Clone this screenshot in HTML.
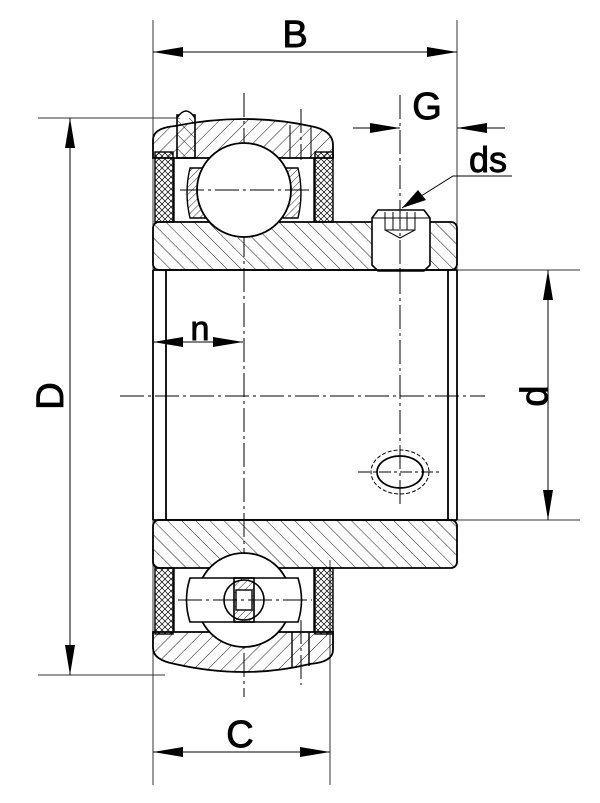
<!DOCTYPE html>
<html><head><style>
html,body{margin:0;padding:0;background:#fff;}
svg{display:block;}
text{font-family:"Liberation Sans",sans-serif;fill:#000;stroke:#000;stroke-width:0.9;}
</style></head><body>
<svg width="600" height="803" viewBox="0 0 600 803" xmlns="http://www.w3.org/2000/svg">
<defs>
<pattern id="h1" patternUnits="userSpaceOnUse" width="10" height="10" patternTransform="rotate(45)">
<line x1="0" y1="0" x2="0" y2="10" stroke="#000" stroke-width="0.9"/></pattern>
<pattern id="h2" patternUnits="userSpaceOnUse" width="10" height="10" patternTransform="rotate(-45)">
<line x1="0" y1="0" x2="0" y2="10" stroke="#000" stroke-width="0.9"/></pattern>
<pattern id="h3" patternUnits="userSpaceOnUse" width="5" height="5" patternTransform="rotate(45)">
<line x1="0" y1="0" x2="0" y2="5" stroke="#000" stroke-width="0.8"/></pattern>
<pattern id="hx" patternUnits="userSpaceOnUse" width="6" height="6">
<path d="M0 0L6 6M6 0L0 6" stroke="#000" stroke-width="0.7"/></pattern>
</defs>
<g stroke="#000" fill="none">
<g stroke-width="1" stroke="#333">
<line x1="153" y1="20" x2="153" y2="785"/>
<line x1="457" y1="20" x2="457" y2="272"/>
<line x1="330" y1="560" x2="330" y2="785"/>
<line x1="38" y1="118" x2="180" y2="118"/>
<line x1="38" y1="675" x2="165" y2="675"/>
<line x1="457" y1="270" x2="580" y2="270"/>
<line x1="457" y1="520" x2="580" y2="520"/>
</g>
<g stroke-width="1">
<line x1="153" y1="52" x2="457" y2="52"/>
<line x1="70" y1="118" x2="70" y2="675"/>
<line x1="548" y1="270" x2="548" y2="520"/>
<line x1="153" y1="342" x2="243" y2="342"/>
<line x1="153" y1="752" x2="330" y2="752"/>
<line x1="353" y1="128" x2="400" y2="128"/>
<line x1="457" y1="128" x2="505" y2="128"/>
<polyline points="512,176 453,176 402,208"/>
</g>
<g fill="#000" stroke="none">
<polygon points="153,52 183,47 183,57"/><polygon points="457,52 427,47 427,57"/>
<polygon points="70,118 65,148 75,148"/><polygon points="70,675 65,645 75,645"/>
<polygon points="548,270 543,300 553,300"/><polygon points="548,520 543,490 553,490"/>
<polygon points="153,342 183,337 183,347"/><polygon points="243,342 213,337 213,347"/>
<polygon points="153,752 183,747 183,757"/><polygon points="330,752 300,747 300,757"/>
<polygon points="400,128 370,123 370,133"/><polygon points="457,128 487,123 487,133"/>
<polygon points="402,208 418,190 426,200"/>
</g>
<g stroke-width="1" stroke-dasharray="24,4,3,4">
<line x1="120" y1="396" x2="485" y2="396"/>
<line x1="244" y1="93" x2="244" y2="697"/>
<line x1="400" y1="95" x2="400" y2="505"/>
<line x1="301" y1="109" x2="301" y2="160"/>
<line x1="301" y1="620" x2="301" y2="685"/>
</g>
<path d="M153 140 Q153 128 175 126 Q245 112 310 126 Q333 130 333 145 L333 158 L153 158 Z" fill="url(#h1)" stroke-width="1.8"/>
<rect x="177" y="115" width="18" height="43" fill="url(#h2)" stroke-width="1.6"/>
<path d="M177 118 Q186 104 195 118" fill="#fff" stroke-width="1.6"/>
<line x1="290" y1="125" x2="290" y2="158" stroke-width="1"/><line x1="311" y1="127" x2="311" y2="158" stroke-width="1"/>
<rect x="155" y="152" width="18" height="70" fill="url(#hx)" stroke-width="1.4"/>
<rect x="315" y="152" width="18" height="70" fill="url(#hx)" stroke-width="1.4"/>
<line x1="174" y1="158" x2="174" y2="222" stroke-width="1.4"/><line x1="314" y1="158" x2="314" y2="222" stroke-width="1.4"/>
<path d="M190 168 L205 168 L205 218 L190 218 Q184 193 190 168Z" fill="url(#h3)" stroke-width="1.4"/>
<path d="M298 168 L283 168 L283 218 L298 218 Q304 193 298 168Z" fill="url(#h3)" stroke-width="1.4"/>
<rect x="153" y="222" width="304" height="48" rx="6" fill="url(#h2)" stroke-width="1.8"/>
<circle cx="244" cy="190" r="47" fill="#fff" stroke-width="1.8"/>
<line x1="180" y1="190" x2="310" y2="190" stroke-width="1" stroke-dasharray="24,4,3,4"/>
<path d="M372 218 L378 210 L424 210 L430 218 L430 265 L424 271 L378 271 L372 265 Z" fill="#fff" stroke-width="1.6"/>
<line x1="372" y1="218" x2="430" y2="218" stroke-width="1"/>
<path d="M385 212 L385 230 L400 238 L415 230 L415 212 M385 230 L415 230 M393 212 L393 230 M407 212 L407 230" stroke-width="1"/>
<line x1="400" y1="205" x2="400" y2="275" stroke-width="1" stroke-dasharray="24,4,3,4"/>
<g stroke-width="1.8">
<line x1="153" y1="270" x2="153" y2="520"/><line x1="166" y1="270" x2="166" y2="520"/>
<line x1="448" y1="270" x2="448" y2="520"/><line x1="457" y1="270" x2="457" y2="520"/>
<line x1="153" y1="270" x2="457" y2="270"/><line x1="153" y1="520" x2="457" y2="520"/>
</g>
<ellipse cx="400" cy="472" rx="23" ry="16" stroke-width="1.8"/>
<ellipse cx="400" cy="472" rx="29" ry="22" stroke-width="1" stroke-dasharray="4,2"/>
<line x1="358" y1="472" x2="440" y2="472" stroke-width="1" stroke-dasharray="12,3,3,3"/>
<rect x="153" y="520" width="304" height="48" rx="6" fill="url(#h2)" stroke-width="1.8"/>
<path d="M153 632 L333 632 L333 650 Q333 662 310 664 Q245 680 175 664 Q153 660 153 648 Z" fill="url(#h1)" stroke-width="1.8"/>
<line x1="292" y1="632" x2="292" y2="668" stroke-width="1.4"/><line x1="309" y1="632" x2="309" y2="666" stroke-width="1.4"/>
<rect x="155" y="568" width="18" height="66" fill="url(#hx)" stroke-width="1.4"/>
<rect x="315" y="568" width="18" height="66" fill="url(#hx)" stroke-width="1.4"/>
<line x1="174" y1="568" x2="174" y2="632" stroke-width="1.4"/><line x1="314" y1="568" x2="314" y2="632" stroke-width="1.4"/>
<circle cx="244" cy="600" r="47" fill="#fff" stroke-width="1.8"/>
<path d="M190 578 L298 578 Q305 600 298 622 L190 622 Q183 600 190 578Z" fill="#fff" stroke-width="1.6"/>
<circle cx="244" cy="600" r="20" fill="#fff" stroke-width="1.6"/>
<rect x="234" y="578" width="20" height="44" fill="url(#h3)" stroke-width="1.6"/>
<rect x="236" y="590" width="16" height="20" fill="#fff" stroke-width="1.4"/>
<line x1="178" y1="600" x2="312" y2="600" stroke-width="1" stroke-dasharray="24,4,3,4"/>
</g>
<text x="295" y="47" font-size="38" text-anchor="middle">B</text>
<text x="427" y="119" font-size="38" text-anchor="middle">G</text>
<text x="488" y="172" font-size="36" text-anchor="middle">ds</text>
<text x="200" y="340" font-size="34" text-anchor="middle">n</text>
<text x="240" y="747" font-size="38" text-anchor="middle">C</text>
<text transform="translate(63,396) rotate(-90)" font-size="38" text-anchor="middle">D</text>
<text transform="translate(547,396) rotate(-90)" font-size="38" text-anchor="middle">d</text>
</svg>
</body></html>
